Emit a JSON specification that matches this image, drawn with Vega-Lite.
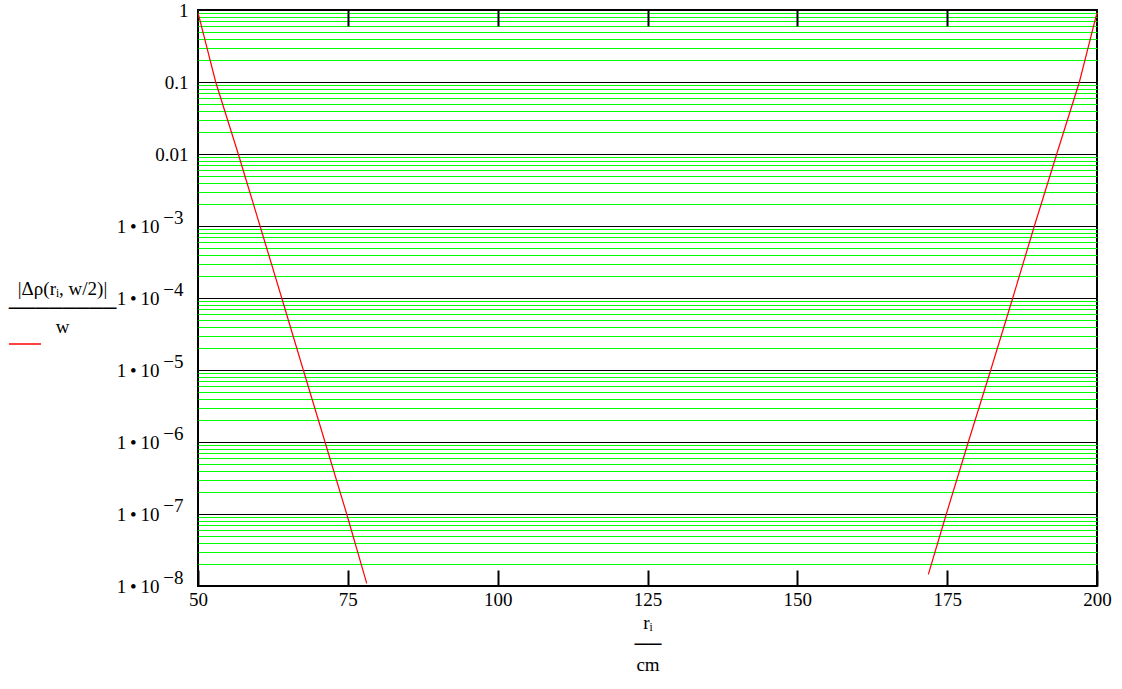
{
  "$schema": "https://vega.github.io/schema/vega-lite/v6.json",
  "width": 899,
  "height": 576,
  "autosize": {"type": "none"},
  "padding": {"left": 198, "top": 10, "right": 25, "bottom": 103},
  "background": "white",
  "config": {
    "view": {"stroke": "black", "strokeWidth": 2},
    "font": "Liberation Serif",
    "axis": {
      "labelFont": "Liberation Serif",
      "titleFont": "Liberation Serif",
      "labelFontSize": 19,
      "titleFontSize": 19,
      "titleFontWeight": "normal",
      "labelColor": "black",
      "titleColor": "black"
    }
  },
  "data": {
    "values": [
      {"branch": "L", "r": 50, "v": 0.92},
      {"branch": "L", "r": 52.95, "v": 0.1},
      {"branch": "L", "r": 56.72, "v": 0.01},
      {"branch": "L", "r": 60.35, "v": 0.001},
      {"branch": "L", "r": 63.97, "v": 0.0001},
      {"branch": "L", "r": 67.57, "v": 1e-5},
      {"branch": "L", "r": 71.19, "v": 1e-6},
      {"branch": "L", "r": 74.81, "v": 1e-7},
      {"branch": "L", "r": 78.15, "v": 1.09e-8},
      {"branch": "R", "r": 171.86, "v": 1.45e-8},
      {"branch": "R", "r": 174.86, "v": 1e-7},
      {"branch": "R", "r": 178.53, "v": 1e-6},
      {"branch": "R", "r": 182.27, "v": 1e-5},
      {"branch": "R", "r": 185.94, "v": 0.0001},
      {"branch": "R", "r": 189.55, "v": 0.001},
      {"branch": "R", "r": 193.28, "v": 0.01},
      {"branch": "R", "r": 197.06, "v": 0.1},
      {"branch": "R", "r": 200, "v": 0.92}
    ]
  },
  "resolve": {"axis": {"x": "independent", "y": "independent"}},
  "layer": [
    {
      "mark": {"type": "line", "strokeWidth": 1.2, "clip": true},
      "encoding": {
        "x": {
          "field": "r",
          "type": "quantitative",
          "scale": {"domain": [50, 200], "nice": false, "zero": false},
          "axis": {
            "orient": "bottom",
            "offset": -16,
            "values": [50, 75, 100, 125, 150, 175, 200],
            "tickSize": 16,
            "tickWidth": 2,
            "tickColor": "black",
            "domain": false,
            "grid": false,
            "labelPadding": 4,
            "labelDx": 3,
            "labelFlush": false,
            "labelOverlap": false,
            "title": ["rᵢ", "──", "cm"],
            "titleLineHeight": 21,
            "titlePadding": 4
          }
        },
        "y": {
          "field": "v",
          "type": "quantitative",
          "scale": {"type": "log", "domain": [1e-8, 1], "nice": false},
          "axis": {
            "orient": "left",
            "offset": 0,
            "values": [1e-8, 2e-8, 3e-8, 4e-8, 5e-8, 6e-8, 7e-8, 8e-8, 9e-8,
                       1e-7, 2e-7, 3e-7, 4e-7, 5e-7, 6e-7, 7e-7, 8e-7, 9e-7,
                       1e-6, 2e-6, 3e-6, 4e-6, 5e-6, 6e-6, 7e-6, 8e-6, 9e-6,
                       1e-5, 2e-5, 3e-5, 4e-5, 5e-5, 6e-5, 7e-5, 8e-5, 9e-5,
                       1e-4, 2e-4, 3e-4, 4e-4, 5e-4, 6e-4, 7e-4, 8e-4, 9e-4,
                       1e-3, 2e-3, 3e-3, 4e-3, 5e-3, 6e-3, 7e-3, 8e-3, 9e-3,
                       0.01, 0.02, 0.03, 0.04, 0.05, 0.06, 0.07, 0.08, 0.09,
                       0.1, 0.2, 0.3, 0.4, 0.5, 0.6, 0.7, 0.8, 0.9, 1],
            "grid": true,
            "gridColor": "#00ff00",
            "gridWidth": 1,
            "ticks": false,
            "domain": false,
            "labelExpr": "abs(log(datum.value)/LN10 - round(log(datum.value)/LN10)) > 0.001 ? '' : datum.value > 0.5 ? '1' : datum.value > 0.05 ? '0.1' : datum.value > 0.005 ? '0.01' : '1\u2009•\u200910'",
            "labelPadding": {"condition": {"test": "datum.value < 0.005", "value": 39}, "value": 10},
            "labelAlign": "right",
            "labelFont": "Liberation Serif",
            "labelFontSize": 19,
            "labelOverlap": false,
            "labelFlush": false,
            "labelBaseline": "middle",
            "title": ["|Δρ(rᵢ, w/2)|", "────────", "w"],
            "titleAngle": 0,
            "titleX": -136,
            "titleY": 278,
            "titleAlign": "center",
            "titleBaseline": "middle",
            "titleLineHeight": 19
          }
        },
        "detail": {"field": "branch", "type": "nominal"},
        "color": {
          "datum": "trace",
          "type": "nominal",
          "scale": {"range": ["#ff0000"]},
          "legend": {
            "orient": "none",
            "legendX": -190,
            "legendY": 317,
            "title": null,
            "labelExpr": "''",
            "symbolType": "stroke",
            "symbolSize": 1024,
            "symbolStrokeWidth": 1.5,
            "padding": 0,
            "labelFontSize": 1
          }
        }
      }
    },
    {
      "mark": {"type": "line", "strokeOpacity": 0},
      "encoding": {
        "x": {
          "field": "r",
          "type": "quantitative",
          "axis": {
            "orient": "top",
            "offset": -16,
            "values": [75, 100, 125, 150, 175],
            "tickSize": 16,
            "tickWidth": 2,
            "tickColor": "black",
            "labels": false,
            "domain": false,
            "grid": false,
            "title": null
          }
        },
        "y": {
          "field": "v",
          "type": "quantitative",
          "axis": {
            "orient": "left",
            "offset": 0,
            "values": [1e-8, 1e-7, 1e-6, 1e-5, 1e-4, 1e-3, 0.01, 0.1, 1],
            "grid": true,
            "gridColor": "#000000",
            "gridWidth": 1,
            "ticks": false,
            "domain": false,
            "labelExpr": "datum.value < 0.005 ? '−' + round(-log(datum.value)/LN10) : ''",
            "labelFont": "Liberation Serif",
            "labelFontSize": 19,
            "labelColor": "black",
            "labelPadding": 15,
            "labelOffset": -9,
            "labelAlign": "right",
            "labelOverlap": false,
            "labelFlush": false,
            "labelBaseline": "middle",
            "title": null
          }
        },
        "detail": {"field": "branch", "type": "nominal"}
      }
    }
  ]
}
